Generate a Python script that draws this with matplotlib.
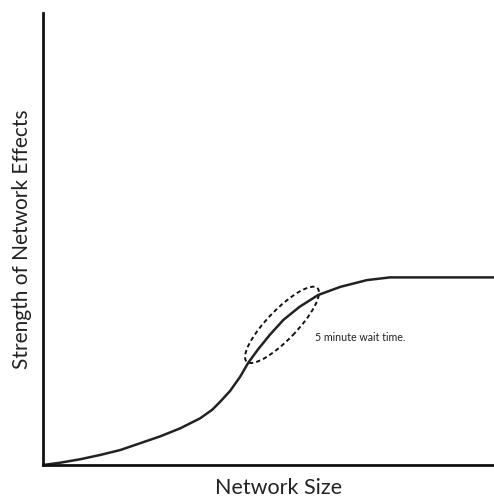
import numpy as np
import matplotlib
matplotlib.use("Agg")
import matplotlib.pyplot as plt
from matplotlib.patches import Ellipse

plt.rcParams['font.family'] = ['Lato', 'DejaVu Sans']

# curve (network size vs strength of effects)
network_size = [0, 3.8, 8.2, 12.6, 17.1, 21.5, 25.9, 30.4, 34.8, 37.5, 39.2,
                41.5, 43.7, 45.5, 47.7, 50.3, 53.3, 56.9, 61.0, 65.9, 71.8,
                76.9, 100]
strength = [0, 0.5, 1.26, 2.2, 3.3, 4.8, 6.3, 8.1, 10.3, 12.2, 13.9,
            16.4, 19.5, 22.6, 25.6, 28.8, 32.1, 35.0, 37.6, 39.4, 40.9,
            41.5, 41.5]

# highlighted region
note_center = (53.0, 31.0)
note_text = "5 minute wait time."

fig = plt.figure(figsize=(4.94, 4.97), dpi=100)
ax = fig.add_axes([0.087, 0.0644, 0.913, 0.9095])

ax.plot(network_size, strength, color='#222222', lw=1.8,
        solid_capstyle='round', solid_joinstyle='round')

ell = Ellipse(note_center, width=22.6, height=6.6, angle=46,
              fill=False, ls=(0, (2.2, 1.6)), lw=1.4, ec='#111111')
ax.add_patch(ell)
ax.text(60.3, 28.3, note_text, fontsize=7.7, color='#222222', va='center')

ax.set_xlim(0, 100)
ax.set_ylim(0, 100)
ax.set_xticks([])
ax.set_yticks([])
for side in ('top', 'right'):
    ax.spines[side].set_visible(False)
for side in ('left', 'bottom'):
    ax.spines[side].set_linewidth(2)
    ax.spines[side].set_color('#111111')

ax.set_xlabel("Network Size", fontsize=15.5, color='#222222')
ax.xaxis.set_label_coords(0.523, -0.028)
ax.set_ylabel("Strength of Network Effects", fontsize=15, color='#222222', labelpad=8)

fig.savefig("out.png", dpi=100)
